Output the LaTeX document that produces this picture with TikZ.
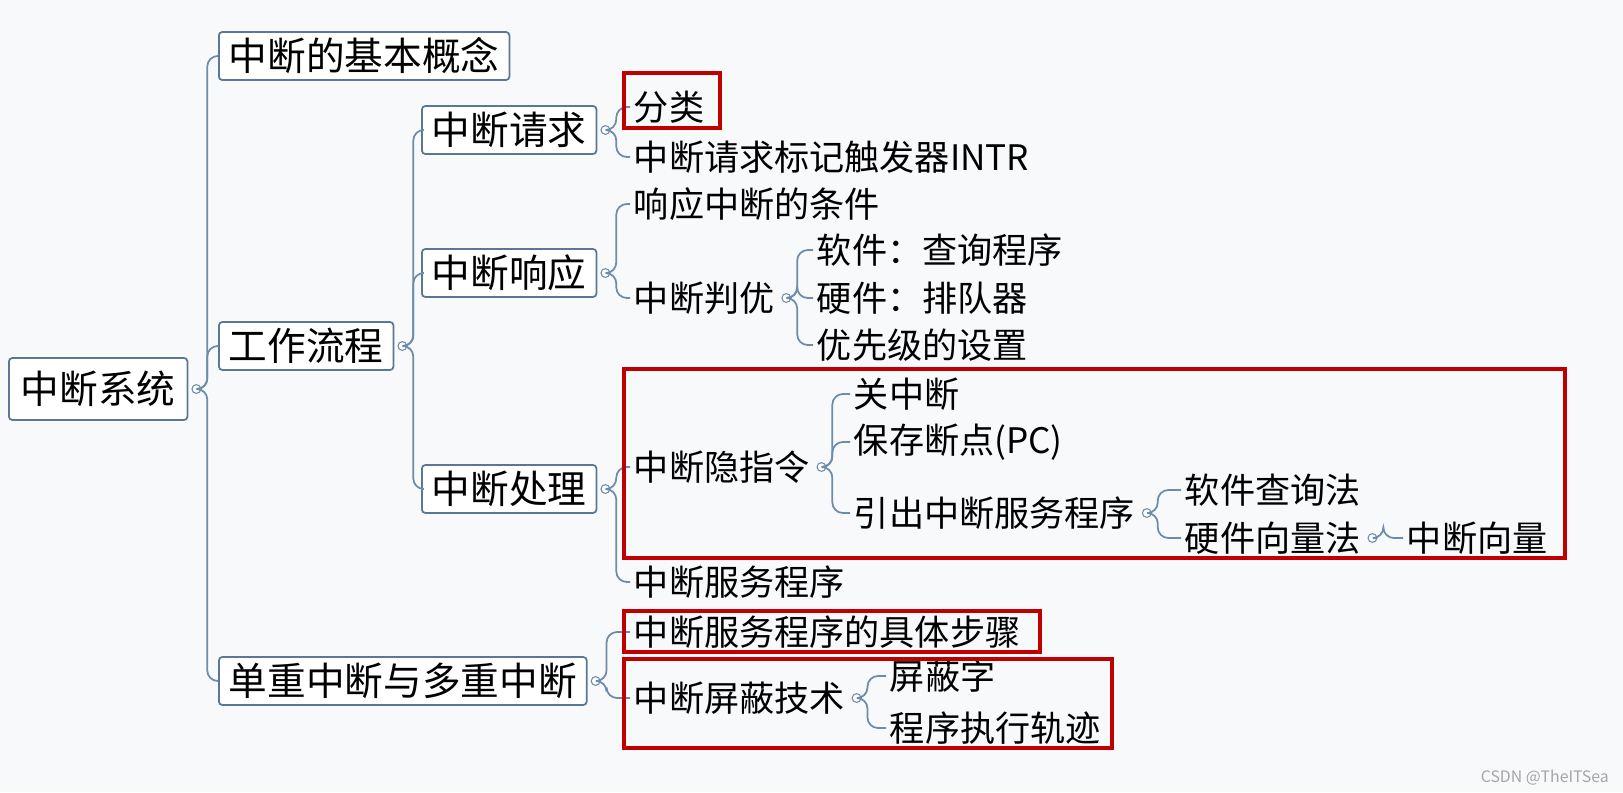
\documentclass[tikz,border=0pt]{standalone}
\usepackage{fontspec}
\setmainfont{Noto Sans CJK SC}
\usetikzlibrary{calc}
\definecolor{boxc}{HTML}{5A7896}
\definecolor{linec}{HTML}{6E8CAA}
\definecolor{redc}{HTML}{C00000}
\definecolor{bgc}{HTML}{F8F9FB}
\tikzset{
  bx/.style={draw=boxc,fill=white,rounded corners=2pt,line width=1pt,anchor=west,inner xsep=0.2cm,minimum height=0.96cm,font=\fontsize{22}{24}\selectfont},
  tx/.style={anchor=west,inner xsep=2pt,inner ysep=0pt,font=\fontsize{20}{22}\selectfont},
  conn/.style={draw=linec,line width=1pt},
  mk/.style={circle,draw=linec,fill=white,line width=0.6pt,inner sep=0pt,minimum size=5pt},
  redbox/.style={draw=redc,line width=1.8pt}
}
\newcommand\branch[2]{%
  \node[mk] (#1m) at ([xshift=0.16cm]#1.east) {};%
  \foreach \c in {#2}{\draw[conn,rounded corners=6pt] (#1m.east) -- ++(6,0) |- (\c.west);}}
\begin{document}
\begin{tikzpicture}[x=0.02cm,y=-0.02cm]
\fill[bgc] (0,0) rectangle (1623,792);
% boxes
\node[bx,minimum height=1.24cm,inner xsep=0.24cm] (sys) at (8,389) {中断系统};
\node[bx] (jb) at (218,56) {中断的基本概念};
\node[bx] (lc) at (218,346) {工作流程};
\node[bx] (dc) at (218,681) {单重中断与多重中断};
\node[bx] (qq) at (421,130) {中断请求};
\node[bx] (xy) at (421,273) {中断响应};
\node[bx] (cl) at (421,489) {中断处理};
% texts
\node[tx] (fl) at (630,107) {分类};
\node[tx] (intr) at (630,157) {中断请求标记触发器INTR};
\node[tx] (tj) at (630,204) {响应中断的条件};
\node[tx] (py) at (630,298) {中断判优};
\node[tx] (rj) at (813,250) {软件：查询程序};
\node[tx] (yj) at (813,298) {硬件：排队器};
\node[tx] (yx) at (813,345) {优先级的设置};
\node[tx] (yzl) at (630,467) {中断隐指令};
\node[tx] (gz) at (850,394) {关中断};
\node[tx] (bc) at (850,442) {保存断点(PC)};
\node[tx] (yc) at (850,513) {引出中断服务程序};
\node[tx] (rc) at (1181,490) {软件查询法};
\node[tx] (yl) at (1181,538) {硬件向量法};
\node[tx] (zl) at (1403,538) {中断向量};
\node[tx] (fw) at (630,582) {中断服务程序};
\node[tx] (bz) at (630,632) {中断服务程序的具体步骤};
\node[tx] (pb) at (630,698) {中断屏蔽技术};
\node[tx] (pbz) at (886,676) {屏蔽字};
\node[tx] (gj) at (886,728) {程序执行轨迹};
% connectors
\branch{sys}{jb,lc,dc}
\branch{lc}{qq,xy,cl}
\branch{qq}{fl,intr}
\branch{xy}{tj,py}
\branch{py}{rj,yj,yx}
\branch{cl}{yzl,fw}
\branch{yzl}{gz,bc,yc}
\branch{yc}{rc,yl}
\branch{yl}{zl}
\branch{dc}{bz,pb}
\branch{pb}{pbz,gj}
% red boxes
\draw[redbox] (624,73) rectangle (720,128);
\draw[redbox] (624,369) rectangle (1565,558);
\draw[redbox] (624,611) rectangle (1040,652);
\draw[redbox] (624,659) rectangle (1112,748);
\node[anchor=east,font=\fontsize{9}{10}\selectfont,text=gray!70] (wm) at (1615,778) {CSDN @TheITSea};
\pgfresetboundingbox
\path[use as bounding box] (0,0) rectangle (1623,792);
\end{tikzpicture}
\end{document}
